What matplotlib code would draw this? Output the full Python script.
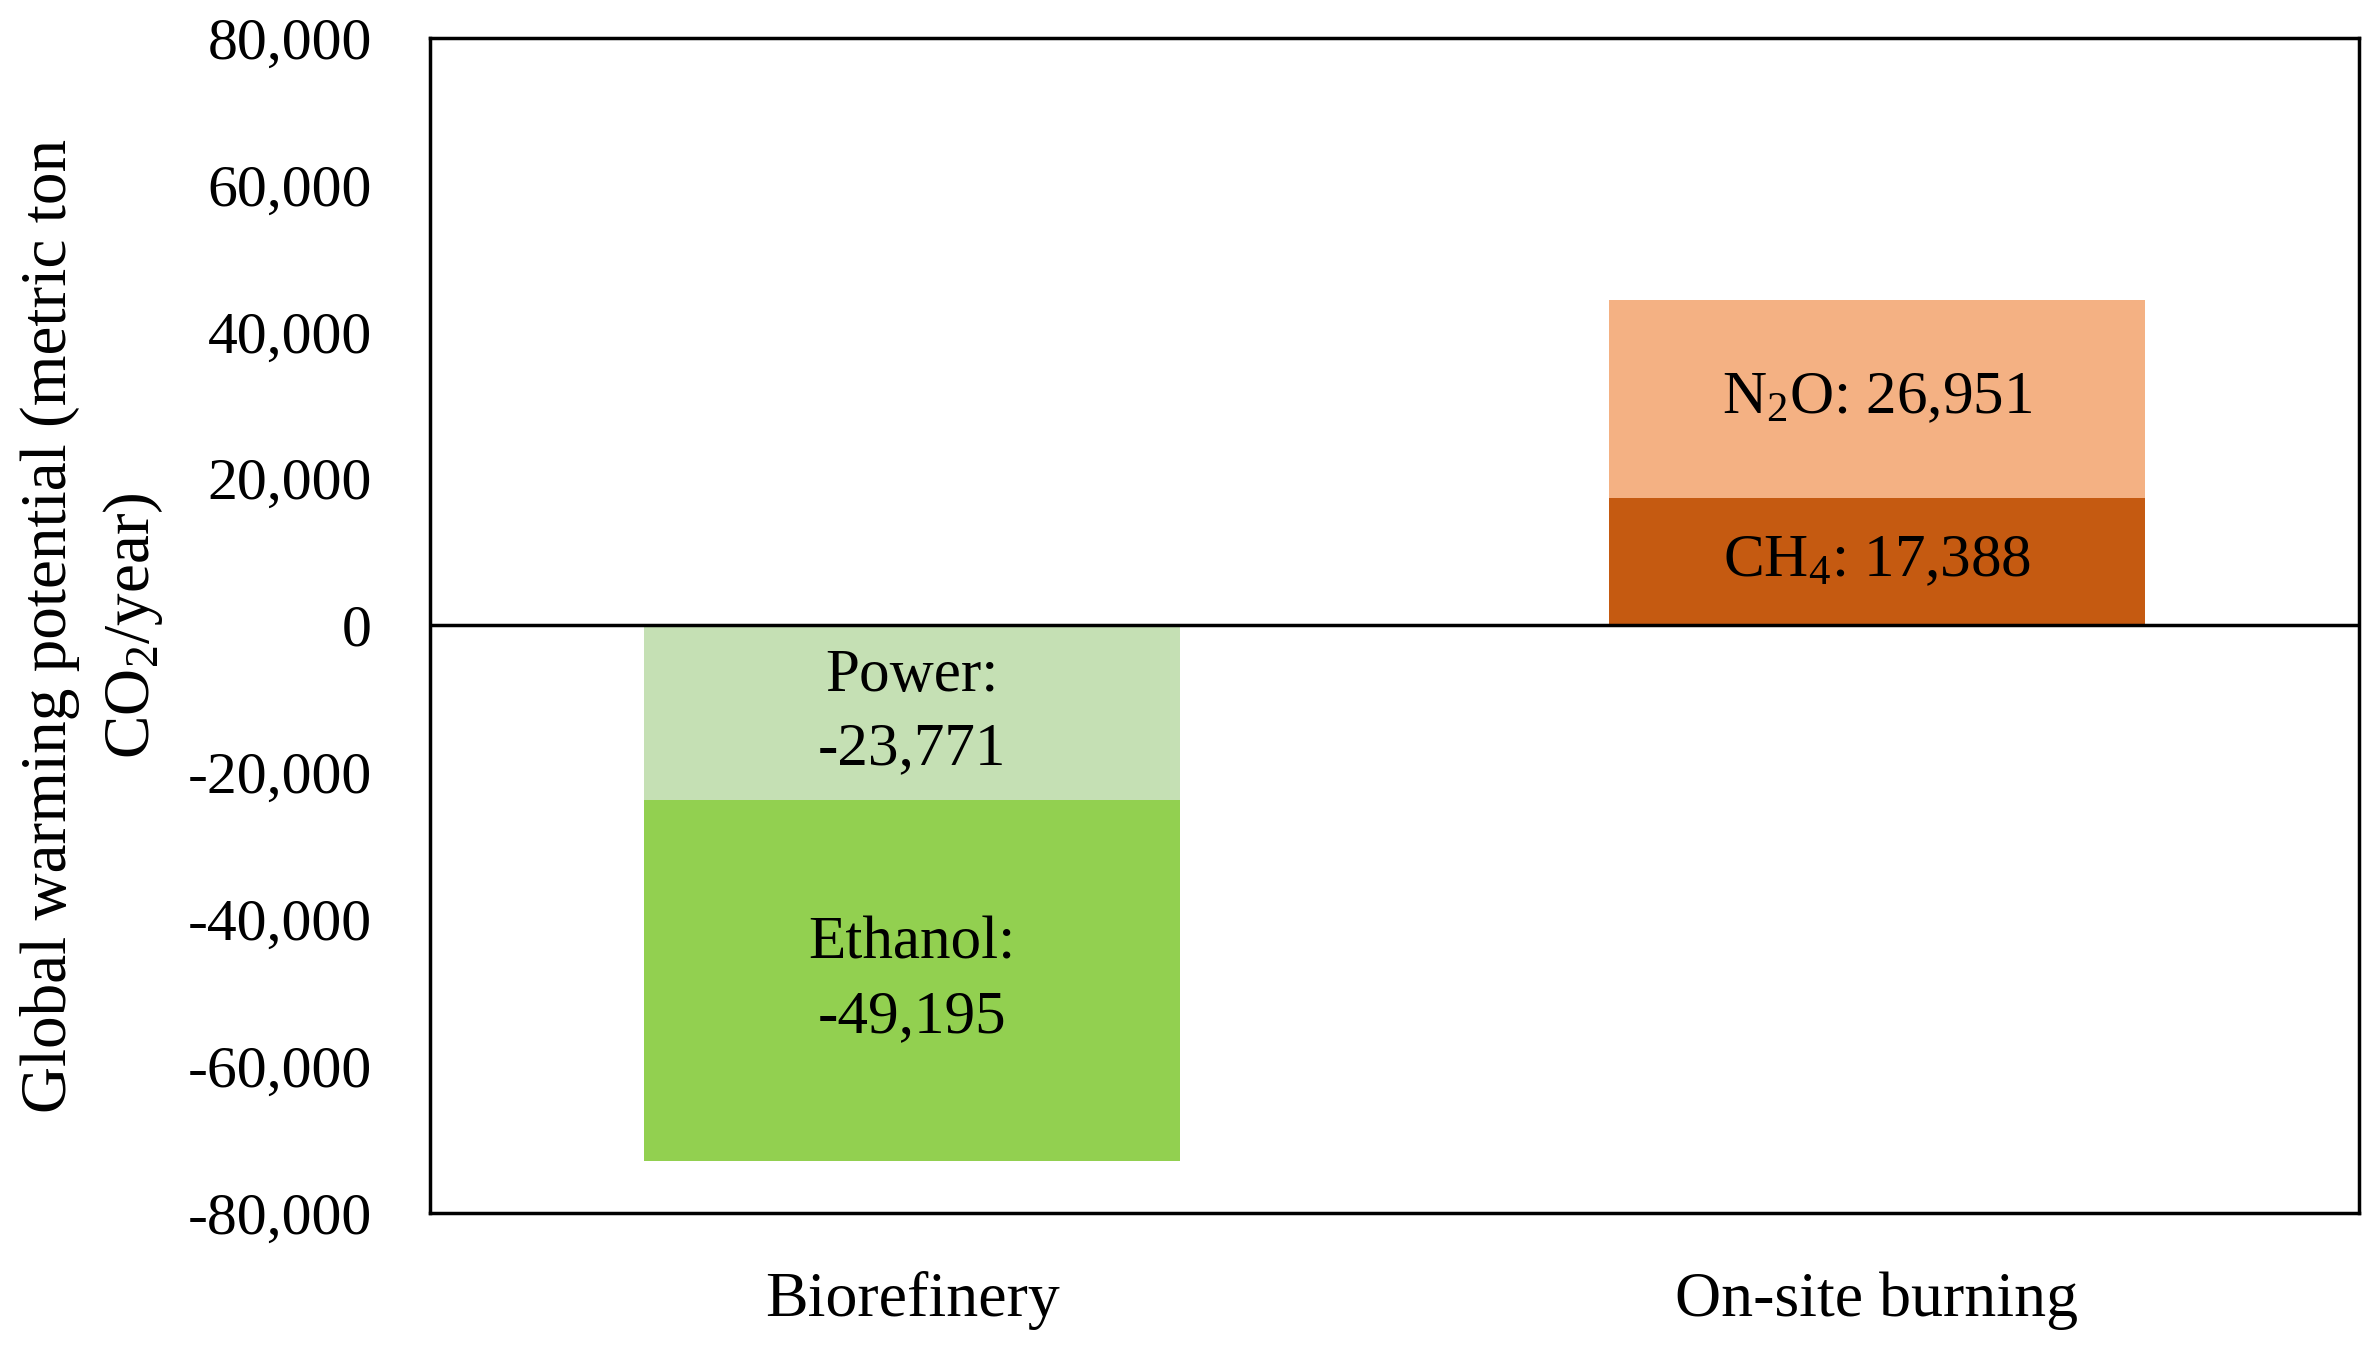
import matplotlib
matplotlib.use("Agg")
import matplotlib.pyplot as plt
from matplotlib.ticker import FuncFormatter

plt.rcParams['font.family'] = ['Liberation Serif', 'DejaVu Serif']
plt.rcParams['mathtext.default'] = 'regular'

# Data
categories = ["Biorefinery", "On-site burning"]
power = [-23771, 0]
ethanol = [-49195, 0]
ch4 = [0, 17388]
n2o = [0, 26951]
yticks = [-80000, -60000, -40000, -20000, 0, 20000, 40000, 60000, 80000]

c_power = "#C5E0B4"
c_ethanol = "#92D050"
c_ch4 = "#C55A11"
c_n2o = "#F4B183"

fig = plt.figure(figsize=(23.74, 13.52), dpi=100)
ax = fig.add_axes([430/2374, 1-1213/1352, (2359-430)/2374, (1213-38)/1352])

x = [0, 1]
w = 0.556
# Biorefinery stacks (negative)
ax.bar(x[0], power[0], width=w, color=c_power, zorder=2)
ax.bar(x[0], ethanol[0], bottom=power[0], width=w, color=c_ethanol, zorder=2)
# On-site burning stacks (positive)
ax.bar(x[1], ch4[1], width=w, color=c_ch4, zorder=2)
ax.bar(x[1], n2o[1], bottom=ch4[1], width=w, color=c_n2o, zorder=2)

fs = 44
ax.text(x[0], power[0]/2, "Power:\n{:,}".format(power[0]), ha='center', va='center',
        fontsize=fs, linespacing=1.42, zorder=3)
ax.text(x[0], power[0] + ethanol[0]/2, "Ethanol:\n{:,}".format(ethanol[0]), ha='center', va='center',
        fontsize=fs, linespacing=1.42, zorder=3)
ax.text(x[1], ch4[1]/2, "CH$_4$: {:,}".format(ch4[1]), ha='center', va='center', fontsize=fs, zorder=3)
ax.text(x[1], ch4[1] + n2o[1]/2, "N$_2$O: {:,}".format(n2o[1]), ha='center', va='center', fontsize=fs, zorder=3)

ax.axhline(0, color='black', linewidth=2.5, zorder=4)

ax.set_xlim(-0.5, 1.5)
ax.set_ylim(-80000, 80000)
ax.set_yticks(yticks)
ax.yaxis.set_major_formatter(FuncFormatter(lambda v, p: "{:,}".format(int(v))))
ax.set_xticks(x)
ax.set_xticklabels(categories)
ax.tick_params(axis='y', length=0, labelsize=43, pad=42)
ax.tick_params(axis='x', length=0, labelsize=46, pad=42)

for s in ax.spines.values():
    s.set_linewidth(2.5)
    s.set_color('black')

ax.set_ylabel("Global warming potential (metric ton\nCO$_2$/year)", fontsize=47,
              linespacing=1.45, labelpad=16)

fig.savefig("out.png", dpi=100, facecolor='white')
